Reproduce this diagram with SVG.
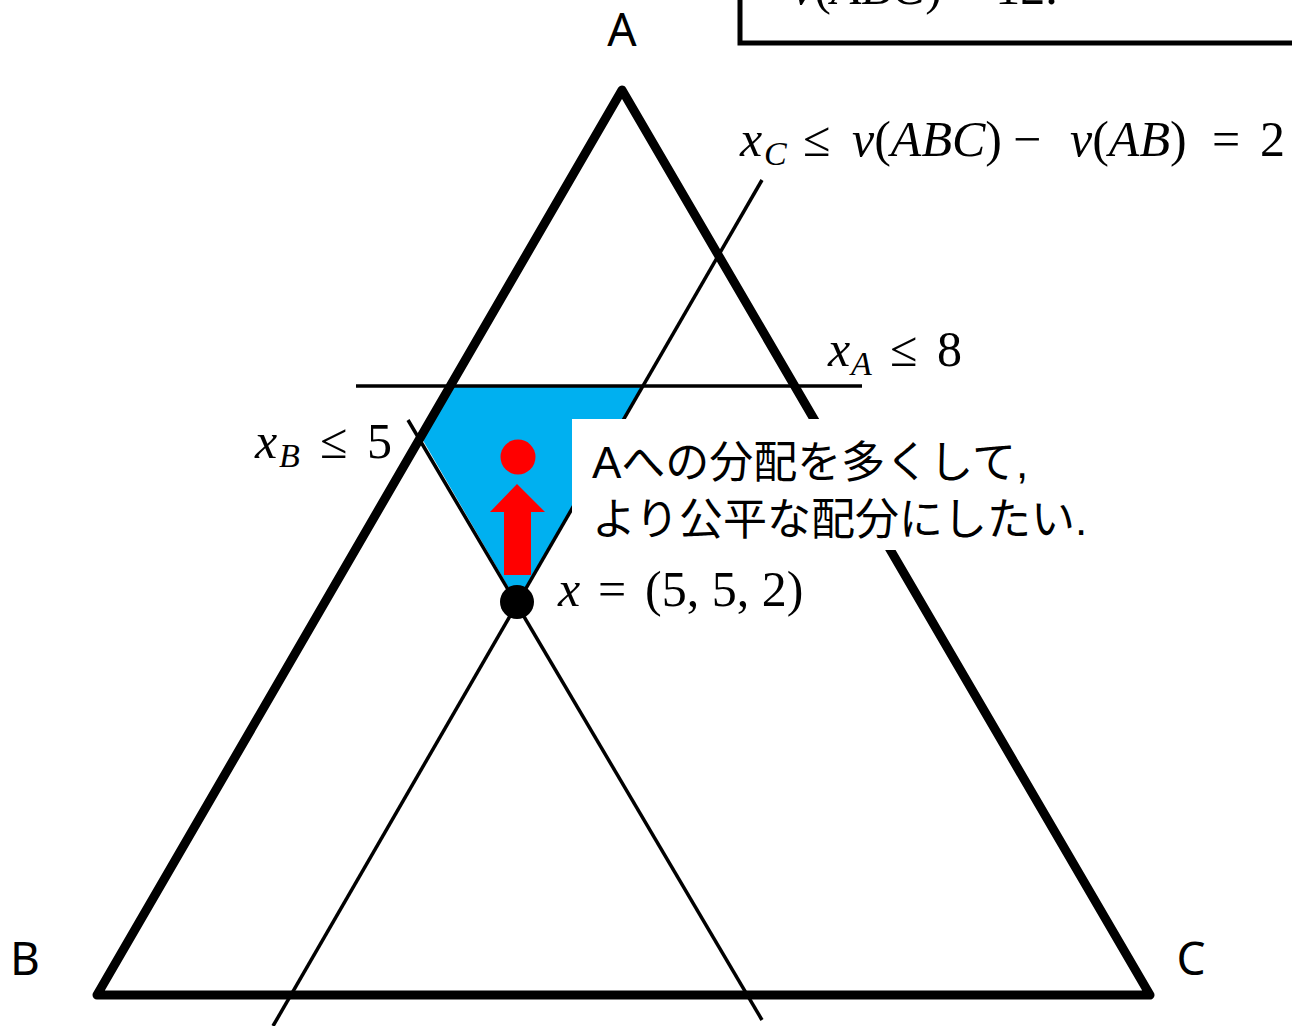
<svg xmlns="http://www.w3.org/2000/svg" width="1292" height="1026" viewBox="0 0 1292 1026">
<style>
.math{font-family:"Liberation Serif",serif;font-size:50px;fill:#000}
.it{font-style:italic}
.sub{font-size:34px;font-style:italic}
.lbl{font-family:"Noto Sans","DejaVu Sans",sans-serif;font-size:46px;fill:#000}
.jp{font-family:"Liberation Sans","Noto Sans CJK JP",sans-serif;font-size:44px;fill:#000}
.thin{stroke:#000;stroke-width:3.5;fill:none}
.thick{stroke:#000;stroke-width:9;fill:none;stroke-linejoin:round}
</style>
<rect width="1292" height="1026" fill="#fff"/>
<g id="region">
<polygon points="450,386 642,386 517,602 421,437" fill="#00B0F0"/>
</g>
<g id="connectors">
<line class="thin" x1="356" y1="386" x2="862" y2="386"/>
<line class="thin" x1="408" y1="420" x2="762" y2="1020"/>
<line class="thin" x1="762" y1="180" x2="273" y2="1026"/>
</g>
<g id="triangle">
<polygon class="thick" points="622,90 1150,995 97,995"/>
</g>
<g id="topbox">
<rect x="740" y="-20" width="600" height="63" fill="#fff" stroke="#000" stroke-width="5"/>
<text class="math" x="792" y="4"><tspan class="it">v</tspan>(<tspan class="it">ABC</tspan>) = 12.</text>
</g>
<g id="note">
<rect x="572" y="419" width="528" height="131" fill="#fff"/>
<text class="jp" x="592" y="478">Aへの分配を多くして,</text>
<text class="jp" x="592" y="535">より公平な配分にしたい.</text>
</g>
<g id="labels">
<text class="lbl" x="622" y="46" text-anchor="middle">A</text>
<text class="lbl" x="25" y="975" text-anchor="middle">B</text>
<text class="lbl" x="1191" y="975" text-anchor="middle">C</text>
<text class="math"><tspan class="it" x="740" y="156">x</tspan><tspan class="sub" x="764" y="165">C</tspan><tspan x="803" y="156">≤</tspan><tspan x="852" y="156"><tspan class="it">v</tspan>(<tspan class="it">ABC</tspan>)</tspan><tspan x="1013" y="156">−</tspan><tspan x="1070" y="156"><tspan class="it">v</tspan>(<tspan class="it">AB</tspan>)</tspan><tspan x="1212" y="156">=</tspan><tspan x="1260" y="156">2</tspan></text>
<text class="math"><tspan class="it" x="828" y="366">x</tspan><tspan class="sub" x="851" y="375">A</tspan><tspan x="890" y="366">≤</tspan><tspan x="937" y="366">8</tspan></text>
<text class="math"><tspan class="it" x="255" y="458">x</tspan><tspan class="sub" x="279" y="467">B</tspan><tspan x="320" y="458">≤</tspan><tspan x="367" y="458">5</tspan></text>
<text class="math"><tspan class="it" x="558" y="606">x</tspan><tspan x="598" y="606">=</tspan><tspan x="645" y="606">(5, 5, 2)</tspan></text>
</g>
<g id="arrow">
<polygon points="517,484 545,512 531,512 531,575 504,575 504,512 490,512" fill="#FF0000"/>
<circle cx="518" cy="457" r="17.5" fill="#FF0000"/>
</g>
<g id="point">
<circle cx="517" cy="602" r="17" fill="#000"/>
</g>
</svg>
